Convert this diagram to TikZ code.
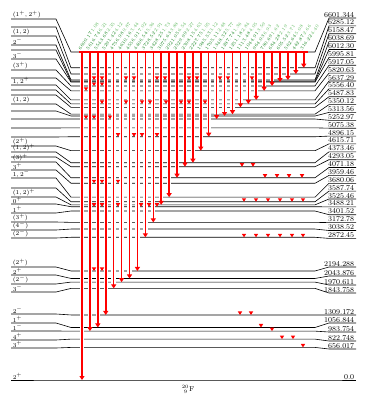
\documentclass[tikz,border=0pt]{standalone}
\usepackage{fontspec}
\usetikzlibrary{arrows.meta}
\definecolor{gdark}{RGB}{25,135,35}
\definecolor{glight}{RGB}{95,185,95}
\tikzset{
  lvl/.style={line width=0.6pt},
  capt/.style={red, line width=1.8pt},
  gap/.style={white, line width=4.4pt},
  gam/.style={red, line width=1.5pt, -{Triangle[width=5pt,length=4pt]}},
  spinlab/.style={font=\fontsize{6}{6}\selectfont, inner sep=0.6pt, anchor=south west},
  enlab/.style={font=\fontsize{7.5}{7.5}\selectfont, inner sep=0.6pt, anchor=south east},
  glab/.style={font=\fontsize{4.6}{4.6}\selectfont, inner sep=0.4pt, anchor=south west, rotate=55, yshift=1.5pt},
  gmark/.pic={\fill[red] (-2.2,-3.5) -- (2.2,-3.5) -- (0,0) -- cycle;}
}
\begin{document}
\begin{tikzpicture}[x=1pt, y=-1pt]
\useasboundingbox (0,0) rectangle (370,407);
% levels: number / energy / spin / left y / right y
\foreach \n/\E/\jp/\yl/\yr in {
  1/6601.344/{$(1^+,2^+)$}/19/18, 2/6285.12//27/25.9, 3/6158.47/{$(1,2)$}/36/33.7,
  4/6038.69/{$2^-$}/45/41.6, 5/6012.30//50/49.5, 6/5995.81/{$3^-$}/59/57.4,
  7/5917.05/{$(3^+)$}/70/65.2, 8/5820.63//78/73.1, 9/5637.29/{$1,2^+$}/85/81.0,
  10/5556.40//90/88.8, 11/5487.83//95/96.7, 12/5350.12/{$(1,2)$}/104/104.6,
  13/5313.56//111/112.4, 14/5252.97//119/120.3, 15/5075.38//128/128.2,
  16/4896.15//137/136.1, 17/4615.71/{$(2^+)$}/146/143.9, 18/4373.46/{$(1,2)^+$}/152/151.8,
  19/4293.05//157/159.7, 20/4071.18/{$(3)^+$}/162/167.5, 21/3959.46/{$3^+$}/170/175.4,
  22/3680.06/{$1,2^-$}/178/183.3, 23/3587.74//188/191.1, 24/3525.46/{$(1,2)^+$}/197/199.0,
  25/3488.21/{$0^+$}/204/206.9, 26/3401.52/{$1^+$}/213/214.7, 27/3172.78/{$(3^+)$}/222/222.6,
  28/3038.52/{$(4^-)$}/230/230.5, 29/2872.45/{$(2^-)$}/238/238.4,
  30/2194.288/{$(2^+)$}/267/267, 31/2043.876/{$2^+$}/275/276, 32/1970.611/{$(2^-)$}/284/285,
  33/1843.758/{$3^-$}/292/293, 34/1309.172/{$2^-$}/314/315, 35/1056.844/{$1^+$}/323/323,
  36/983.754/{$1^-$}/331/332, 37/822.748/{$4^+$}/340/341, 38/656.017/{$3^+$}/348/349,
  39/0.0/{$2^+$}/380/380}
{
  \pgfmathsetmacro\ym{380-\E*0.049687}
  \draw[lvl] (11,\yl) -- (56,\yl) -- (71,\ym) coordinate (L\n) -- (315,\ym) -- (329,\yr) -- (356,\yr);
  \node[spinlab] (s\n) at (12,\yl) {\jp};
  \node[enlab] (e\n) at (355,\yr) {\E};
}

\coordinate (capA) at (79,0);
\coordinate (capB) at (308,0);
\draw[capt] (capA |- L1) -- (capB |- L1);

\foreach \col in {1,...,29}
  \coordinate (c\col) at ({82+(\col-1)*7.92},0);

% primary gammas
\foreach \col/\n in {1/39, 2/36, 3/35, 4/34, 5/33, 6/32, 7/31, 8/30, 9/29, 10/27,
  11/24, 12/22, 13/20, 14/19, 15/18, 16/17, 17/16, 18/14, 19/13, 20/12,
  21/11, 22/10, 23/9, 24/8, 25/7, 26/6, 27/4, 28/3, 29/2}
{
  \draw[gap, shorten <=1.5pt, shorten >=5pt] (c\col |- L1) -- (c\col |- L\n);
  \draw[gam] (c\col |- L1) -- (c\col |- L\n);
}

% secondary gammas
\foreach \x/\n in {244/29, 256/29, 268/29, 280/29, 292/29, 303/29,
  244/23, 256/23, 268/23, 280/23, 292/23, 303/23, 265/20, 277/20, 289/20, 302/20,
  242/19, 253/19, 240/34, 251/34, 261/35, 272/36, 282/37, 293/37, 303/38,
  94/4, 102/4, 126/4, 134/4, 157/4, 165/4, 189/4, 197/4, 220/4, 228/4, 252/4,
  94/7, 102/7, 86/8, 102/10, 126/10, 142/10, 150/10, 166/10, 181/10, 189/10, 205/10,
  86/14, 94/14, 110/14, 118/16, 134/16, 142/16, 157/16, 94/21, 102/21, 118/21,
  94/25, 102/25, 118/25, 141/25, 149/25, 157/25, 94/30, 102/30}
{
  \path (\x,0) coordinate (mk);
  \pic at (mk |- L\n) {gmark};
}

\foreach \col/\eg/\ig in {1/6600.17/1.08, 2/5616.74/6.21, 3/5543.68/2.35, 4/5291.42/4.12,
  5/4756.98/9.87, 6/4630.16/3.44, 7/4556.91/7.02, 8/4406.54/5.36, 9/3728.52/2.91,
  10/3428.25/1.73, 11/3075.63/3.88, 12/2921.05/6.54, 13/2529.99/2.27, 14/2308.15/4.63,
  15/2227.75/1.95, 16/1985.53/3.12, 17/1705.11/2.48, 18/1348.32/5.77, 19/1287.74/1.36,
  20/1251.18/2.84, 21/1113.48/4.05, 22/1044.91/3.59, 23/964.03/6.93, 24/780.69/1.62,
  25/684.28/2.19, 26/605.52/3.71, 27/562.64/5.08, 28/442.87/2.66, 29/316.22/4.40}
  \node[glab] (g\col) at (c\col |- L1) {\textcolor{gdark}{\eg}\,\textcolor{glight}{\ig}};

\node[font=\fontsize{7}{7}\selectfont] (nuc) at (188,389) {${}^{20}_{\;9}\mathrm{F}$};
\end{tikzpicture}
\end{document}
